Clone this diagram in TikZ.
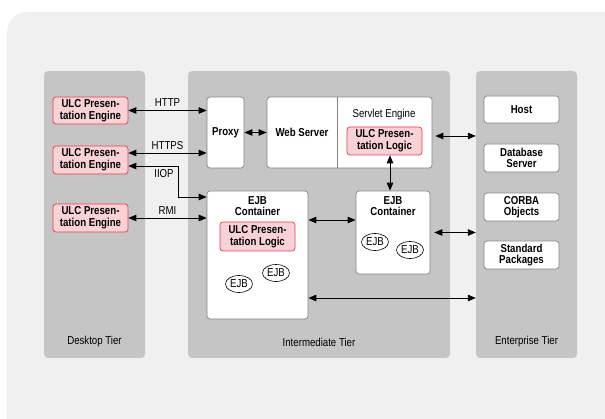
\documentclass[tikz,border=0pt]{standalone}
\usepackage{fontspec}
\setmainfont{Liberation Sans}[FakeStretch=0.84]
\usetikzlibrary{arrows.meta,shapes.geometric}

\definecolor{bggray}{HTML}{EFF0EF}
\definecolor{tiergray}{HTML}{C5C5C5}
\definecolor{boxgray}{HTML}{858585}
\definecolor{ulcred}{HTML}{E2404F}
\definecolor{ulcpink}{HTML}{F9D2D5}

\begin{document}
\begin{tikzpicture}[x=1pt,y=-1pt,
    every node/.style={font=\fontsize{11.5}{11.6}\selectfont},
    tier/.style={fill=tiergray,rounded corners=4pt,minimum width=101pt,minimum height=287pt},
    box/.style={draw=boxgray,line width=0.7pt,fill=white,rounded corners=3pt,align=center,inner sep=0pt,
      font=\fontsize{11.5}{11.6}\selectfont\bfseries},
    ulc/.style={draw=ulcred,line width=0.7pt,fill=ulcpink,rounded corners=3pt,align=center,inner sep=0pt,
      minimum width=75pt,minimum height=28pt,font=\fontsize{11.5}{11.6}\selectfont\bfseries},
    res/.style={box,minimum width=75pt,minimum height=28pt},
    ejb/.style={draw,ellipse,line width=0.6pt,minimum width=27pt,minimum height=17pt,inner sep=0pt},
    link/.style={{Triangle[length=8pt,width=6.5pt]}-{Triangle[length=8pt,width=6.5pt]},line width=0.9pt}]
  \useasboundingbox (0,0) rectangle (605,419);
  \clip (0,0) rectangle (605,419);
  \fill[bggray,rounded corners=20pt] (7,12) rectangle (625,440);

  \node[tier] (desk) at (94.5,214.5) {};
  \node[tier,minimum width=262pt] (inter) at (319,214.5) {};
  \node[tier] (ent) at (526.5,214.5) {};
  \node (desklbl) at (94.5,342) {Desktop Tier};
  \node (interlbl) at (319,342) {Intermediate Tier};
  \node (entlbl) at (526.5,342) {Enterprise Tier};

  \node[ulc,minimum height=27pt] (eng1) at (90.5,110.5) {ULC Presen-\\tation Engine};
  \node[ulc] (eng2) at (90.5,160) {ULC Presen-\\tation Engine};
  \node[ulc] (eng3) at (90.5,218) {ULC Presen-\\tation Engine};

  \node[box,minimum width=37pt,minimum height=71pt] (proxy) at (225.5,132.5) {Proxy};
  \node[box,minimum width=165pt,minimum height=71pt] (websrv) at (349.5,132.5) {};
  \draw[boxgray,line width=0.7pt] (337,0 |- websrv.north) -- (337,0 |- websrv.south);
  \node[font=\fontsize{11.5}{11.6}\selectfont\bfseries] (wslbl) at (302,132) {Web Server};
  \node (servlbl) at (384,115) {Servlet Engine};
  \node[ulc] (slogic) at (384.5,141) {ULC Presen-\\tation Logic};

  \node[box,minimum width=101pt,minimum height=128pt] (cont1) at (257.5,255) {};
  \node[font=\fontsize{11.5}{11.6}\selectfont\bfseries,align=center] (c1lbl) at (257.5,206) {EJB\\Container};
  \node[ulc,minimum height=29pt] (clogic) at (257.5,236.5) {ULC Presen-\\tation Logic};
  \node[ejb] (ejba) at (239,284) {EJB};
  \node[ejb] (ejbb) at (276,273) {EJB};

  \node[box,minimum width=74pt,minimum height=83pt] (cont2) at (393,232.5) {};
  \node[font=\fontsize{11.5}{11.6}\selectfont\bfseries,align=center] (c2lbl) at (393,206) {EJB\\Container};
  \node[ejb] (ejbc) at (375,242) {EJB};
  \node[ejb] (ejbd) at (410,250) {EJB};

  \node[res,minimum height=27pt] (host) at (521.5,109.5) {Host};
  \node[res] (db) at (521.5,158) {Database\\Server};
  \node[res] (corba) at (521.5,207) {CORBA\\Objects};
  \node[res] (std) at (521.5,255) {Standard\\Packages};

  \draw[link] (eng1.east) -- node[above] {HTTP} (eng1.east -| proxy.west);
  \draw[link] ([yshift=7pt]eng2.east) -- node[above] {HTTPS} ([yshift=7pt]eng2.east -| proxy.west);
  \coordinate (iiopturn) at (178,197);
  \draw[link] ([yshift=-6pt]eng2.east) -| (iiopturn) -- (iiopturn -| cont1.west);
  \node (iiop) at (164,174) {IIOP};
  \draw[link] (eng3.east) -- node[above] {RMI} (eng3.east -| cont1.west);
  \draw[link] (proxy.east) -- (websrv.west);
  \draw[link] ([xshift=3pt,yshift=-3.5pt]websrv.east) -- ([yshift=-3.5pt]websrv.east -| ent.west);
  \draw[link] ([xshift=5.5pt]slogic.south) -- ([xshift=5.5pt]slogic.south |- cont2.north);
  \draw[link] ([yshift=35pt]cont1.east) -- ([yshift=35pt]cont1.east -| cont2.west);
  \draw[link] ([xshift=4pt]cont2.east) -- (cont2.east -| ent.west);
  \draw[link] ([yshift=-43pt]cont1.east) -- ([yshift=-43pt]cont1.east -| ent.west);
\end{tikzpicture}
\end{document}
